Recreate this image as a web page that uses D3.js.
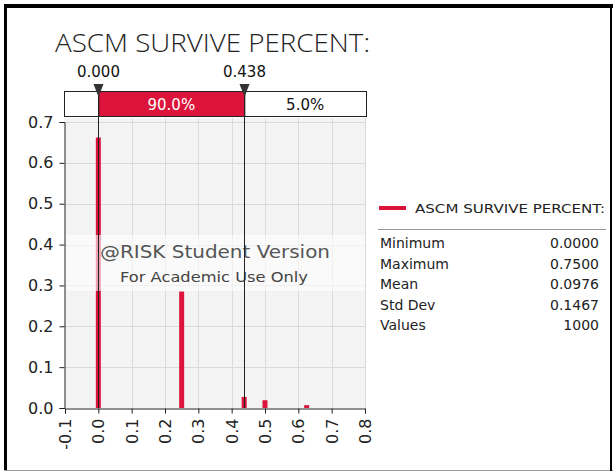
<!DOCTYPE html>
<html>
<head>
<meta charset="utf-8">
<script src="https://cdn.jsdelivr.net/npm/d3@7"></script>
<style>
  body { margin: 0; background: #fff; }
  svg text { font-family: "DejaVu Sans", Verdana, sans-serif; }
</style>
</head>
<body>
<div id="chart"></div>
<script>
// histogram bars (value, relative frequency)
const barValues = [0.0, 0.25, 0.4375, 0.5, 0.625];
const barHeights = [0.662, 0.285, 0.027, 0.019, 0.007];
const xTicks = [-0.1, 0.0, 0.1, 0.2, 0.3, 0.4, 0.5, 0.6, 0.7, 0.8];
const yTicks = [0.0, 0.1, 0.2, 0.3, 0.4, 0.5, 0.6, 0.7];
const markers = [0.0, 0.438];
const bandPct = ["5.0%", "90.0%", "5.0%"];
const statNames = ["Minimum", "Maximum", "Mean", "Std Dev", "Values"];
const statValues = ["0.0000", "0.7500", "0.0976", "0.1467", "1000"];
const title = "ASCM SURVIVE PERCENT:";

const W = 613, H = 472;
const red = "#dc143c";
const fmt = d => d3.format(".1f")(d).replace("−", "-");

const svg = d3.select("#chart").append("svg")
  .attr("width", W).attr("height", H);

// outer frame
svg.append("rect").attr("x", 4).attr("y", 4).attr("width", W - 4).attr("height", 4).attr("fill", "#000");
svg.append("rect").attr("x", 4).attr("y", 4).attr("width", 3).attr("height", 466).attr("fill", "#000");
svg.append("line").attr("x1", 4).attr("x2", W).attr("y1", 470.5).attr("y2", 470.5).attr("stroke", "#999");
svg.append("line").attr("x1", 611).attr("x2", 611).attr("y1", 4).attr("y2", 471).attr("stroke", "#000").attr("stroke-width", 2);

// title
svg.append("text").attr("x", 55).attr("y", 52)
  .attr("font-size", 26).attr("fill", "#222")
  .style("font-family", '"Open Sans", "Liberation Sans", sans-serif')
  .style("font-weight", 300)
  .attr("textLength", 315).attr("lengthAdjust", "spacingAndGlyphs")
  .text(title);

const x = d3.scaleLinear().domain([-0.1, 0.8]).range([65, 365]);
const y = d3.scaleLinear().domain([0, 0.7]).range([408, 122]);

// plot background + grid
svg.append("rect").attr("x", 65).attr("y", 118).attr("width", 300).attr("height", 290).attr("fill", "#f3f3f3");
const grid = svg.append("g").attr("stroke", "#dadada").attr("stroke-width", 1);
grid.selectAll(".gx").data(xTicks.slice(1)).join("line")
  .attr("x1", d => Math.round(x(d)) + 0.5).attr("x2", d => Math.round(x(d)) + 0.5)
  .attr("y1", 118).attr("y2", 408);
grid.selectAll(".gy").data(yTicks.slice(1)).join("line")
  .attr("x1", 65).attr("x2", 365)
  .attr("y1", d => Math.round(y(d)) + 0.5).attr("y2", d => Math.round(y(d)) + 0.5);

// bars
svg.append("g").selectAll("rect").data(barValues).join("rect")
  .attr("x", d => x(d) - 2.5).attr("width", 5)
  .attr("y", (d, i) => y(barHeights[i]))
  .attr("height", (d, i) => y(0) - y(barHeights[i]))
  .attr("fill", red);

// watermark
svg.append("rect").attr("x", 65).attr("y", 235).attr("width", 300).attr("height", 56)
  .attr("fill", "#fff").attr("opacity", 0.6);
svg.append("text").attr("x", 100).attr("y", 258)
  .attr("font-size", 18).attr("fill", "#555")
  .attr("textLength", 230).attr("lengthAdjust", "spacingAndGlyphs").text("@RISK Student Version");
svg.append("text").attr("x", 120).attr("y", 282)
  .attr("font-size", 14.5).attr("fill", "#444")
  .attr("textLength", 188).attr("lengthAdjust", "spacingAndGlyphs").text("For Academic Use Only");

// axes
const yAxis = svg.append("g").attr("transform", "translate(64.5,0)")
  .call(d3.axisLeft(y).tickValues(yTicks).tickFormat(fmt).tickSizeOuter(0).tickSize(5));
yAxis.selectAll("text").attr("font-size", 16).attr("fill", "#222").attr("dx", -3);
const xAxis = svg.append("g").attr("transform", "translate(0,408.5)")
  .call(d3.axisBottom(x).tickValues(xTicks).tickFormat(fmt).tickSizeOuter(0).tickSize(5));
xAxis.selectAll("text").attr("font-size", 16).attr("fill", "#222")
  .attr("transform", "rotate(-90)").attr("text-anchor", "end")
  .attr("x", -10).attr("y", 0).attr("dy", "0.35em");
svg.selectAll(".domain, .tick line").attr("stroke", "#222");

// band above plot
const bx = [64, ...markers.map(x), 366];
const band = svg.append("g");
bandPct.forEach((p, i) => {
  band.append("rect").attr("x", bx[i] + 0.5).attr("y", 91.5)
    .attr("width", bx[i + 1] - bx[i]).attr("height", 25)
    .attr("fill", i === 1 ? red : "#fff").attr("stroke", "#222");
  if (bx[i + 1] - bx[i] > 40) {
    band.append("text").attr("x", (bx[i] + bx[i + 1]) / 2).attr("y", 109.5)
      .attr("text-anchor", "middle").attr("font-size", 15)
      .attr("fill", i === 1 ? "#fff" : "#111").text(p);
  }
});

// marker lines + triangles + labels
markers.forEach(m => {
  const mx = Math.round(x(m)) + 0.5;
  svg.append("line").attr("x1", mx).attr("x2", mx).attr("y1", 91).attr("y2", 408)
    .attr("stroke", "#222").attr("stroke-width", 1);
  svg.append("path").attr("d", `M${mx - 5},84 L${mx + 5},84 L${mx},97 Z`).attr("fill", "#333");
  svg.append("text").attr("x", mx).attr("y", 77).attr("text-anchor", "middle")
    .attr("font-size", 15).attr("fill", "#111").text(m.toFixed(3));
});

// legend
svg.append("rect").attr("x", 379).attr("y", 206).attr("width", 27).attr("height", 4).attr("fill", red);
svg.append("text").attr("x", 415).attr("y", 213).attr("font-size", 13).attr("fill", "#222")
  .attr("textLength", 190).attr("lengthAdjust", "spacingAndGlyphs").text(title);
svg.append("line").attr("x1", 378).attr("x2", 606).attr("y1", 229.5).attr("y2", 229.5).attr("stroke", "#999");
const stats = svg.append("g");
stats.selectAll(".sn").data(statNames).join("text")
  .attr("x", 380).attr("y", (d, i) => 248 + i * 20.5).attr("font-size", 14).attr("fill", "#222").text(d => d);
stats.selectAll(".sv").data(statValues).join("text")
  .attr("x", 599).attr("y", (d, i) => 248 + i * 20.5).attr("text-anchor", "end")
  .attr("font-size", 14).attr("fill", "#222").text(d => d);
</script>
</body>
</html>
